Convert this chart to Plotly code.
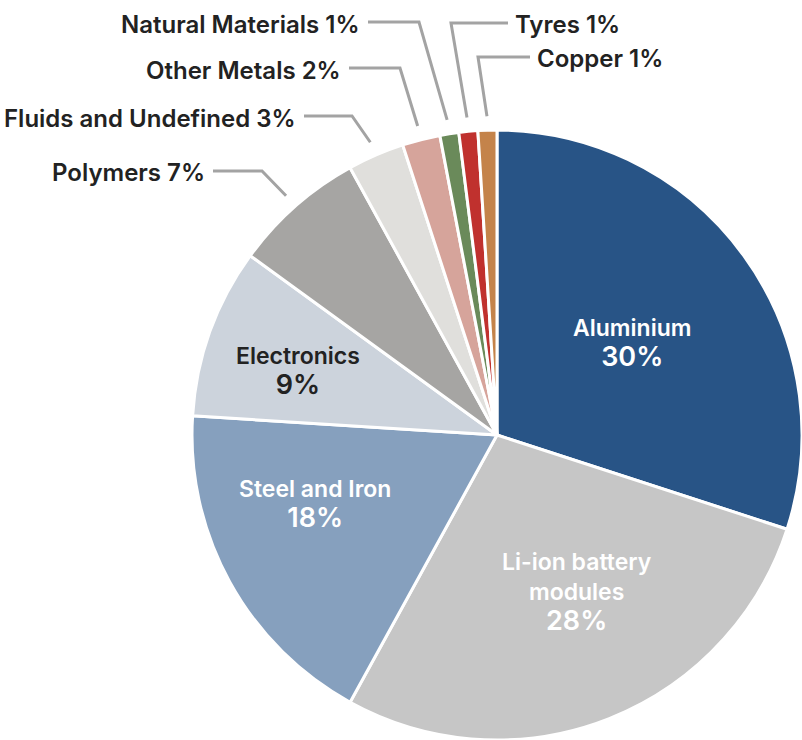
import math
import plotly.graph_objects as go

# Material composition of the vehicle (% by weight)
materials = ["Aluminium", "Li-ion battery modules", "Steel and Iron", "Electronics",
             "Polymers", "Fluids and Undefined", "Other Metals", "Natural Materials",
             "Tyres", "Copper"]
shares = [30, 28, 18, 9, 7, 3, 2, 1, 1, 1]
colors = ["#285486", "#c6c6c6", "#86a0be", "#ccd3dc", "#a6a5a3",
          "#e0dfdc", "#d6a49b", "#6a8a5a", "#c0312e", "#c4834a"]

# Labels drawn inside the large slices
inside_names = ["Aluminium", "Li-ion battery<br>modules", "Steel and Iron", "Electronics"]
inside_color = ["white", "white", "white", "#222222"]
inside_rfrac = [0.535, 0.58, 0.64, 0.685]
inside_dang = [1.7, -5.3, 7.8, -2.2]

# Call-out labels for the small slices: (line y, elbow x, line end x, side)
callout_line_y = [171, 116, 68, 22, 23, 57]
callout_elbow_x = [262, 352, 400, 419, 451, 478]
callout_end_x = [213, 304, 349, 368, 508, 530]
callout_side = ["left", "left", "left", "left", "right", "right"]

W, H = 802, 740
dom_x = [192 / W, 1.0]
dom_y = [0.0, 610 / H]

fig = go.Figure(go.Pie(
    labels=materials, values=shares, sort=False, direction="clockwise", rotation=0,
    marker=dict(colors=colors, line=dict(color="white", width=3)),
    textinfo="none", hoverinfo="label+percent", showlegend=False,
    domain=dict(x=dom_x, y=dom_y),
))

# Pie geometry in pixels
cx = (dom_x[0] + dom_x[1]) / 2 * W
cy = H - (dom_y[0] + dom_y[1]) / 2 * H
R = min((dom_x[1] - dom_x[0]) * W, (dom_y[1] - dom_y[0]) * H) / 2
total = sum(shares)
mids = []
acc = 0
for v in shares:
    mids.append((acc + v / 2) / total * 360)
    acc += v

def px(x, y):
    return x / W, 1 - y / H

font_family = "Inter, Roboto, sans-serif"
annotations = []
for i, name in enumerate(inside_names):
    a = math.radians(mids[i] + inside_dang[i])
    r = inside_rfrac[i] * R
    x, y = px(cx + r * math.sin(a), cy - r * math.cos(a))
    annotations.append(dict(
        x=x, y=y, xref="paper", yref="paper", showarrow=False,
        text=f"{name}<br><span style='font-size:27px'>{shares[i]}%</span>",
        font=dict(family=font_family, size=23, color=inside_color[i], weight=600),
        align="center", xanchor="center", yanchor="middle",
    ))

shapes = []
for k in range(len(callout_line_y)):
    i = 4 + k
    a = math.radians(mids[i])
    r = R + 14
    sx, sy = cx + r * math.sin(a), cy - r * math.cos(a)
    ly = callout_line_y[k]
    pts = [(sx, sy), (callout_elbow_x[k], ly), (callout_end_x[k], ly)]
    path = "M " + " L ".join(f"{px(x, y)[0]},{px(x, y)[1]}" for x, y in pts)
    shapes.append(dict(type="path", path=path, xref="paper", yref="paper",
                       line=dict(color="#a3a3a3", width=3)))
    if callout_side[k] == "left":
        tx, anchor = callout_end_x[k] - 6, "right"
    else:
        tx, anchor = callout_end_x[k] + 5, "left"
    x, y = px(tx, ly + 2)
    annotations.append(dict(
        x=x, y=y, xref="paper", yref="paper", showarrow=False,
        text=f"{materials[i]} {shares[i]}%",
        font=dict(family=font_family, size=24, color="#222222", weight=600),
        xanchor=anchor, yanchor="middle",
    ))

fig.update_layout(
    width=W, height=H, margin=dict(l=0, r=0, t=0, b=0),
    paper_bgcolor="white", plot_bgcolor="white",
    annotations=annotations, shapes=shapes,
)

fig.write_html("out.html")
